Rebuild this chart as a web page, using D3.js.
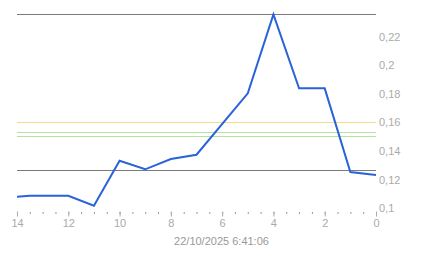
<!DOCTYPE html>
<html>
<head>
<meta charset="utf-8">
<script src="https://cdn.jsdelivr.net/npm/d3@7"></script>
<style>
  body { margin: 0; background: #fff; }
  text { font-family: "Liberation Sans", Arial, sans-serif; }
</style>
</head>
<body>
<div id="chart"></div>
<script>
// --------------------------------------
//  Data
// --------------------------------------

const minutes = [14, 13.5, 12, 11, 10, 9, 8, 7, 5, 4, 3, 2, 1, 0];
const values = [0.108, 0.1087, 0.1087, 0.1017, 0.1332, 0.1272, 0.1344, 0.1374,
                0.1803, 0.2355, 0.1838, 0.1838, 0.1253, 0.1232];

const levels = [0.2356, 0.1265, 0.16, 0.1531, 0.1505];
const levelKinds = ["max", "min", "warn", "ok", "ok"];

const yTicks = [0.1, 0.12, 0.14, 0.16, 0.18, 0.2, 0.22];
const xTicks = [14, 12, 10, 8, 6, 4, 2, 0];
const title = "22/10/2025 6:41:06";

// --------------------------------------
//  Canvas
// --------------------------------------

const width = 443;
const height = 258;

const svg = d3.select("#chart")
  .append("svg")
  .attr("width", width)
  .attr("height", height);

const x = d3.scaleLinear([14, 0], [17, 376]);
const y = d3.scaleLinear([0.1, 0.22], [208.2, 36.6]);
const levelColor = { max: "#7a7a7a", min: "#7a7a7a", warn: "#f0dc8c", ok: "#b4e0a0" };

const comma = v => String(+v.toFixed(2)).replace(".", ",");

// --------------------------------------
//  Axes
// --------------------------------------

// minor ticks every half minute
svg.append("g")
  .attr("transform", "translate(0,212)")
  .call(d3.axisBottom(x).tickValues(d3.range(0, 14.5, 0.5)).tickSize(2).tickFormat(""))
  .call(g => g.select(".domain").remove())
  .call(g => g.selectAll("line").attr("stroke", "#999"));

svg.append("g")
  .attr("transform", "translate(0,211.5)")
  .call(d3.axisBottom(x).tickValues(xTicks).tickSize(5).tickPadding(3).tickFormat(d3.format("d")))
  .call(g => g.select(".domain").remove())
  .call(g => g.selectAll("line").attr("stroke", "#aaa"))
  .call(g => g.selectAll("text").attr("fill", "#aaa").attr("font-size", 11)
    .attr("font-family", "'Liberation Sans', Arial, sans-serif"));

svg.append("g")
  .attr("transform", "translate(376,0)")
  .call(d3.axisRight(y).tickValues(yTicks).tickSize(0).tickPadding(3).tickFormat(comma))
  .call(g => g.select(".domain").remove())
  .call(g => g.selectAll("text").attr("fill", "#aaa").attr("font-size", 11)
    .attr("font-family", "'Liberation Sans', Arial, sans-serif"));

svg.append("text")
  .attr("x", width / 2)
  .attr("y", 244.5)
  .attr("text-anchor", "middle")
  .attr("fill", "#999")
  .attr("font-size", 11)
  .text(title);

// --------------------------------------
//  Level lines
// --------------------------------------

svg.selectAll("line.level")
  .data(levels)
  .join("line")
  .attr("class", "level")
  .attr("x1", x(14))
  .attr("x2", x(0))
  .attr("y1", d => Math.round(y(d)) + 0.5)
  .attr("y2", d => Math.round(y(d)) + 0.5)
  .attr("stroke", (d, i) => levelColor[levelKinds[i]])
  .attr("stroke-width", 1);

// --------------------------------------
//  Series
// --------------------------------------

const line = d3.line()
  .x((d, i) => x(minutes[i]))
  .y(d => y(d));

svg.append("path")
  .datum(values)
  .attr("d", line)
  .attr("fill", "none")
  .attr("stroke", "#2a62d8")
  .attr("stroke-width", 2)
  .attr("stroke-linejoin", "miter");
</script>
</body>
</html>
